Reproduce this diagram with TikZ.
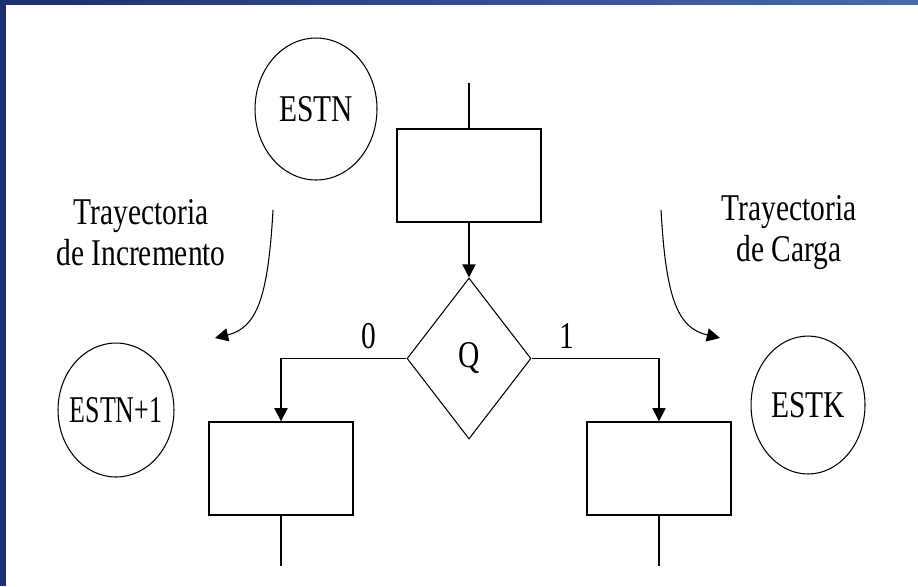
\documentclass[tikz,border=0pt]{standalone}
\usepackage{fontspec}
\setmainfont[FakeStretch=0.78]{Liberation Serif}
\usepackage{tikz}
\usetikzlibrary{shapes.geometric,arrows.meta}
\definecolor{navy}{RGB}{28,47,110}
\definecolor{slate}{RGB}{74,104,176}

\begin{document}
\begin{tikzpicture}[x=0.02cm,y=-0.02cm,line width=0.8pt,
		every node/.style={font=\fontsize{21.5}{23.3}\selectfont},
		tip/.style={-{Triangle[length=7.5pt,width=7.5pt]}},
		state/.style={ellipse,draw,line width=0.6pt,inner sep=0pt},
		block/.style={rectangle,draw,minimum width=2.88cm,minimum height=1.86cm},
		test/.style={diamond,draw,line width=0.6pt,inner sep=0pt,minimum width=2.48cm,minimum height=3.22cm}]
		\useasboundingbox (0,0) rectangle (918,586);
		\shade[left color=navy,right color=slate] (0,0) rectangle (918,4);
		\fill[navy] (0,0) rectangle (6,586);

		\node[state,minimum width=2.44cm,minimum height=2.84cm] (estn) at (316,109) {ESTN};
		\node[state,inner xsep=-0.15cm,minimum width=2.32cm,minimum height=2.68cm] (estn1) at (116,410) {\scalebox{0.88}[1]{ESTN+1}};
		\node[state,minimum width=2.28cm,minimum height=2.76cm] (estk) at (808,405) {ESTK};

		\node[block] (b0) at (469,175.5) {};
		\node[test] (q) at (469,358.5) {Q};
		\node[block] (b1) at (281,468.5) {};
		\node[block] (b2) at (659,468.5) {};

		\coordinate (in) at (469,83);
		\coordinate (out1) at (281,566);
		\coordinate (out2) at (659,566);
		\draw (in) -- (b0.north);
		\draw[tip] (b0.south) -- (q.north);
		\draw[tip] (q.west) -| node[pos=0.15,above=2pt] {0} (b1.north);
		\draw[tip] (q.east) -| node[pos=0.14,above=2pt] {1} (b2.north);
		\draw (b1.south) -- (out1);
		\draw (b2.south) -- (out2);

		\node[align=center] (incr) at (141,233) {Trayectoria\\de Incremento};
		\node[align=center] (carga) at (789,233) {Trayectoria\\de Carga};

		\coordinate (incS) at (273,210);
		\coordinate (incE) at (215,338);
		\coordinate (carS) at (661,210);
		\coordinate (carE) at (720,338);
		\draw[tip,line width=0.6pt] (incS) .. controls (268,300) and (256,328) .. (incE);
		\draw[tip,line width=0.6pt] (carS) .. controls (666,300) and (678,328) .. (carE);
\end{tikzpicture}
\end{document}
